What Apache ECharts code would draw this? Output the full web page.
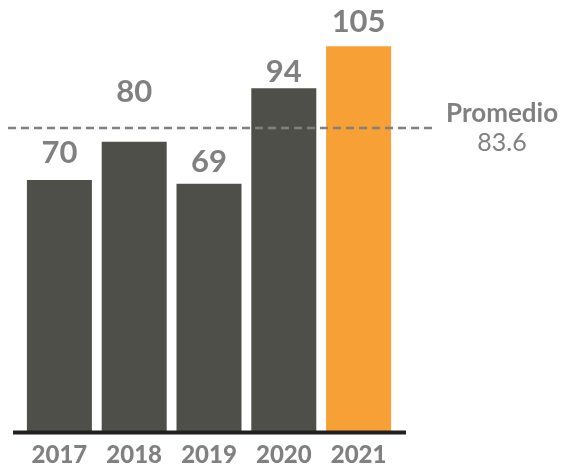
<!DOCTYPE html>
<html>
<head>
<meta charset="utf-8">
<script src="https://cdn.jsdelivr.net/npm/echarts@6/dist/echarts.min.js"></script>
<style>
html,body{margin:0;padding:0;background:#fff;}
#chart{width:562px;height:472px;}
</style>
</head>
<body>
<div id="chart"></div>
<script>
const years = ['2017', '2018', '2019', '2020', '2021'];
const values = [70, 80, 69, 94, 105];
const barColors = ['#4f4f4a', '#4f4f4a', '#4f4f4a', '#4f4f4a', '#f7a035'];
const averageLabel = 'Promedio';
const average = values.reduce((a, b) => a + b, 0) / values.length;

const FONT = 'Lato';
const GRAY = '#808080';
const Y_MIN = 4, Y_MAX = 110;
const labelGaps = [12, 34, 6, 1, 9];

const chart = echarts.init(document.getElementById('chart'), null, {renderer: 'canvas'});
chart.setOption({
  animation: false,
  backgroundColor: '#ffffff',
  grid: [
    {left: 22, right: 166, top: 27, bottom: 39.5},
    {left: 8, right: 130, top: 27, bottom: 39.5}
  ],
  xAxis: [
    {
      type: 'category', gridIndex: 0, data: years,
      axisLine: {show: false}, axisTick: {show: false},
      axisLabel: {color: GRAY, fontFamily: FONT, fontWeight: 900, fontSize: 24, margin: 11}
    },
    {type: 'value', gridIndex: 1, min: 0, max: 1, show: false}
  ],
  yAxis: [
    {type: 'value', gridIndex: 0, min: Y_MIN, max: Y_MAX, show: false},
    {type: 'value', gridIndex: 1, min: Y_MIN, max: Y_MAX, show: false}
  ],
  series: [
    {
      type: 'bar', xAxisIndex: 0, yAxisIndex: 0,
      barWidth: 65,
      data: values.map((v, i) => ({
        value: v,
        itemStyle: {color: barColors[i]},
        label: {distance: labelGaps[i]}
      })),
      label: {
        show: true, position: 'top',
        color: GRAY, fontFamily: FONT, fontWeight: 'bold', fontSize: 31
      },
      z: 2
    },
    {
      type: 'line', xAxisIndex: 1, yAxisIndex: 1,
      data: [[0, average], [1, average]],
      symbol: 'none',
      lineStyle: {color: '#808080', width: 2.5, type: [8, 5]},
      endLabel: {
        show: true, distance: 14,
        formatter: '{a|' + averageLabel + '}\n{b|' + average.toFixed(1) + '}',
        rich: {
          a: {color: GRAY, fontFamily: FONT, fontWeight: 'bold', fontSize: 26, align: 'center', lineHeight: 29},
          b: {color: GRAY, fontFamily: FONT, fontWeight: 'normal', fontSize: 25, align: 'center', lineHeight: 29}
        }
      },
      z: 5
    }
  ],
  graphic: [
    {
      type: 'line', z: 10,
      shape: {x1: 13, y1: 432.5, x2: 406, y2: 432.5},
      style: {stroke: '#231f20', lineWidth: 4}
    }
  ]
});
</script>
</body>
</html>
